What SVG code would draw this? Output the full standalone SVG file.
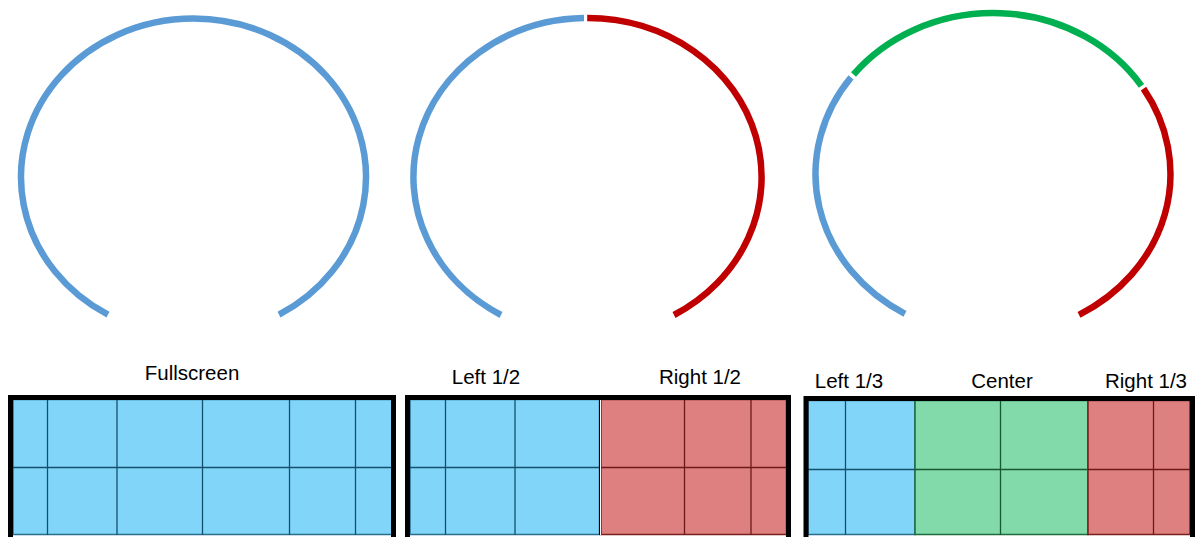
<svg xmlns="http://www.w3.org/2000/svg" width="1199" height="537" viewBox="0 0 1199 537">
  <style>
    .arc { fill: none; stroke-width: 6.5; stroke-linecap: butt; }
    .a-blue { stroke: #5B9BD5; }
    .a-red { stroke: #C00000; }
    .a-green { stroke: #00B050; }
    .frame { fill: none; stroke: #000; stroke-width: 5; }
    .z-blue { fill: #81D5F9; stroke: #2A6F90; stroke-width: 1.5; }
    .z-red { fill: #DF8080; stroke: #7A1E1E; stroke-width: 1.5; }
    .z-green { fill: #82D9A9; stroke: #1E6B3C; stroke-width: 1.5; }
    .g-blue { stroke: #14506E; stroke-width: 1.3; }
    .g-red { stroke: #6E1818; stroke-width: 1.3; }
    .g-green { stroke: #175A32; stroke-width: 1.3; }
    .label { font-family: "Liberation Sans", Arial, sans-serif; font-size: 20.5px; fill: #000; text-anchor: middle; }
  </style>

  <!-- Arcs: field of view split into segments -->
  <g id="arc-fullscreen">
    <path class="arc a-blue" d="M 108 314.7 A 172.5 158.5 0 1 1 279 314.7"/>
  </g>
  <g id="arc-halves">
    <path class="arc a-blue" d="M 501 315 A 174 159 0 0 1 584 18.03"/>
    <path class="arc a-red" d="M 587.2 18 A 174 159 0 0 1 674 315"/>
  </g>
  <g id="arc-thirds">
    <path class="arc a-blue" d="M 905 313.8 A 177.5 161 0 0 1 851 77.4"/>
    <path class="arc a-green" d="M 853.5 74.5 A 177.5 161 0 0 1 1141.5 85.8"/>
    <path class="arc a-red" d="M 1143.5 88.7 A 177.5 161 0 0 1 1079 314.8"/>
  </g>

  <!-- Panel 1: fullscreen -->
  <g id="panel-fullscreen">
    <text class="label" x="192" y="380">Fullscreen</text>
    <rect class="z-blue" x="13" y="399.5" width="379" height="135"/>
    <g class="g-blue">
      <line x1="47.5" y1="399" x2="47.5" y2="535"/>
      <line x1="117" y1="399" x2="117" y2="535"/>
      <line x1="202.5" y1="399" x2="202.5" y2="535"/>
      <line x1="289.5" y1="399" x2="289.5" y2="535"/>
      <line x1="355.5" y1="399" x2="355.5" y2="535"/>
      <line x1="13" y1="467.5" x2="392" y2="467.5"/>
    </g>
    <rect class="frame" x="10.5" y="397.5" width="383" height="145"/>
  </g>

  <!-- Panel 2: left / right halves -->
  <g id="panel-halves">
    <text class="label" x="486" y="384">Left 1/2</text>
    <text class="label" x="700" y="384">Right 1/2</text>
    <rect class="z-blue" x="410" y="399.5" width="189.5" height="135"/>
    <rect class="z-red" x="601" y="399.5" width="185.5" height="135"/>
    <line x1="599.5" y1="399" x2="599.5" y2="535" stroke="#000" stroke-width="1"/>
    <line x1="600.5" y1="399" x2="600.5" y2="535" stroke="#fff" stroke-width="1"/>
    <g class="g-blue">
      <line x1="445.5" y1="399" x2="445.5" y2="535"/>
      <line x1="515" y1="399" x2="515" y2="535"/>
      <line x1="410" y1="467.5" x2="599" y2="467.5"/>
    </g>
    <g class="g-red">
      <line x1="684.5" y1="399" x2="684.5" y2="535"/>
      <line x1="751" y1="399" x2="751" y2="535"/>
      <line x1="601" y1="467.5" x2="786" y2="467.5"/>
    </g>
    <rect class="frame" x="407.5" y="397.5" width="381" height="145"/>
  </g>

  <!-- Panel 3: thirds -->
  <g id="panel-thirds">
    <text class="label" x="849" y="388">Left 1/3</text>
    <text class="label" x="1002" y="388">Center</text>
    <text class="label" x="1146" y="388">Right 1/3</text>
    <rect class="z-blue" x="808" y="400.5" width="107" height="134"/>
    <rect class="z-green" x="915" y="400.5" width="173" height="134"/>
    <rect class="z-red" x="1088" y="400.5" width="102" height="134"/>
    <g class="g-blue">
      <line x1="845.5" y1="400" x2="845.5" y2="535"/>
      <line x1="808" y1="469.5" x2="915" y2="469.5"/>
    </g>
    <g class="g-green">
      <line x1="1000.5" y1="400" x2="1000.5" y2="535"/>
      <line x1="915" y1="469.5" x2="1088" y2="469.5"/>
    </g>
    <g class="g-red">
      <line x1="1153.5" y1="400" x2="1153.5" y2="535"/>
      <line x1="1088" y1="469.5" x2="1190" y2="469.5"/>
    </g>
    <rect class="frame" x="806" y="398.5" width="386.5" height="145"/>
  </g>
</svg>
